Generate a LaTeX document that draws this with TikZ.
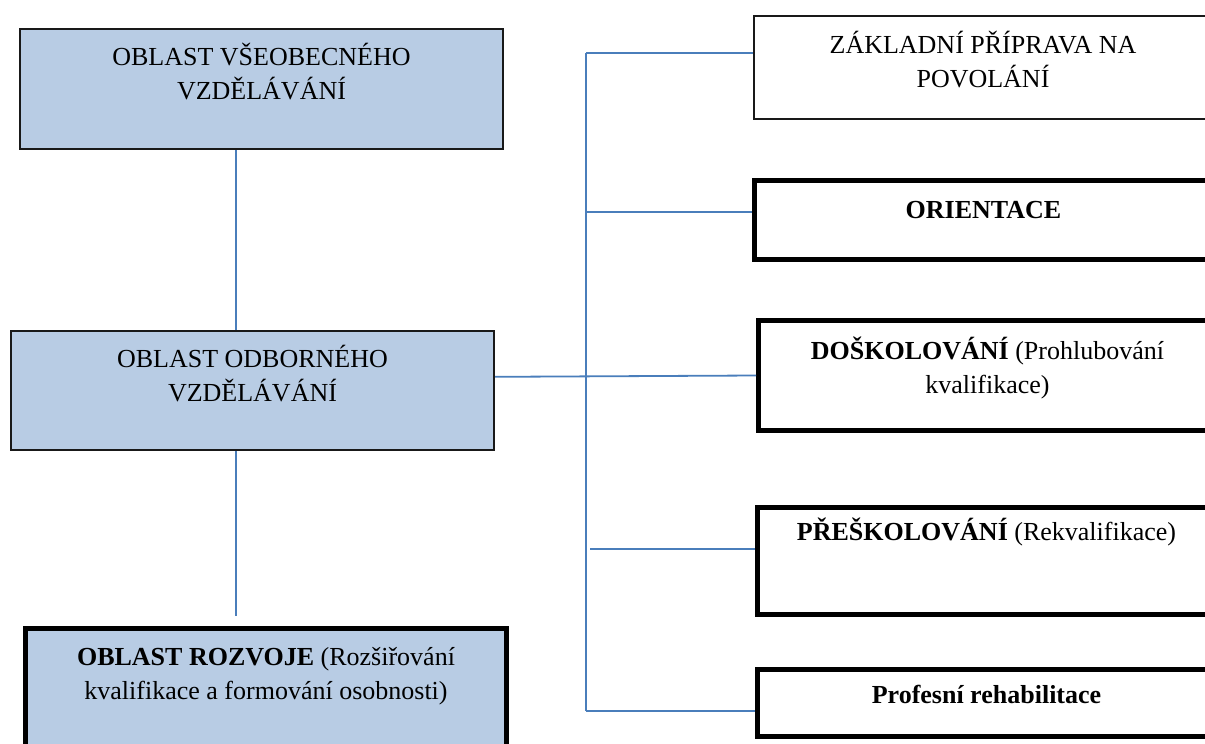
\documentclass[tikz,border=0pt]{standalone}
\usepackage{fontspec}
\setmainfont{Liberation Serif}
\usetikzlibrary{calc}

\definecolor{areafill}{HTML}{B8CCE4}
\definecolor{linkblue}{HTML}{4A7EBB}

\tikzset{
  thinbox/.style={draw=black!90, line width=2pt, inner sep=0pt, anchor=north west},
  thickbox/.style={draw=black, line width=5pt, inner sep=0pt, anchor=north west},
  shaded/.style={fill=areafill},
  caption/.style={anchor=base, inner sep=0pt, font=\fontsize{26}{34}\selectfont},
  link/.style={draw=linkblue, line width=1.8pt},
}

% two-line centred caption whose base is the first line's baseline
\newcommand\twolines[2]{\begin{tabular}[t]{@{}c@{}}#1\\#2\end{tabular}}

\begin{document}
\begin{tikzpicture}[x=1pt,y=-1pt]
  \useasboundingbox (0,0) rectangle (1205,744);
  \clip (0,0) rectangle (1205,744);

  % left column: areas of education
  \node[thinbox, shaded, minimum width=483pt, minimum height=120pt] (vseob) at (19,28) {};
  \node[thinbox, shaded, minimum width=483pt, minimum height=119pt] (odb) at (10,330) {};
  \node[thickbox, shaded, minimum width=481pt, minimum height=160pt] (rozv) at (23,626) {};

  % right column: forms of vocational education
  \node[thinbox, minimum width=458pt, minimum height=103pt] (zakl) at (753,15) {};
  \node[thickbox, minimum width=458pt, minimum height=79pt] (orient) at (752,178) {};
  \node[thickbox, minimum width=458pt, minimum height=110pt] (dosk) at (756,318) {};
  \node[thickbox, minimum width=458pt, minimum height=107pt] (presk) at (755,505) {};
  \node[thickbox, minimum width=458pt, minimum height=67pt] (prof) at (755,667) {};

  % captions
  \node[caption] (t-vseob) at ($(vseob.north)+(0,37)$) {\twolines{OBLAST VŠEOBECNÉHO}{VZDĚLÁVÁNÍ}};
  \node[caption] (t-odb) at ($(odb.north)+(0,37)$) {\twolines{OBLAST ODBORNÉHO}{VZDĚLÁVÁNÍ}};
  \node[caption] (t-rozv) at ($(rozv.north)+(0,39)$) {\twolines{\textbf{OBLAST ROZVOJE} (Rozšiřování}{kvalifikace a formování osobnosti)}};
  \node[caption] (t-zakl) at ($(zakl.north)+(0,38)$) {\twolines{ZÁKLADNÍ PŘÍPRAVA NA}{POVOLÁNÍ}};
  \node[caption] (t-orient) at ($(orient.north)+(0,40)$) {\textbf{ORIENTACE}};
  \node[caption] (t-dosk) at ($(dosk.north)+(0,41)$) {\twolines{\textbf{DOŠKOLOVÁNÍ} (Prohlubování}{kvalifikace)}};
  \node[caption] (t-presk) at ($(presk.north)+(0,35)$) {\textbf{PŘEŠKOLOVÁNÍ} (Rekvalifikace)};
  \node[caption] (t-prof) at ($(prof.north)+(0,36)$) {\textbf{Profesní rehabilitace}};

  % left column links
  \coordinate (vs-out) at ($(vseob.south west)!0.448!(vseob.south east)$);
  \coordinate (odb-out) at ($(odb.south west)!0.466!(odb.south east)$);
  \draw[link] (vs-out) -- (vs-out |- odb.north);
  \draw[link, shorten >=10pt] (odb-out) -- (odb-out |- rozv.north);

  % right column: trunk and branches
  \coordinate (trunk-top) at (586,53);
  \coordinate (trunk-bot) at (586,711);
  \coordinate (br-orient) at (586,212);
  \coordinate (br-presk) at (590,549);
  \coordinate (odb-side) at ($(odb.north east)!0.387!(odb.south east)$);
  \draw[link] (trunk-top) -- (trunk-bot);
  \draw[link] (trunk-top) -- (zakl.west |- trunk-top);
  \draw[link] (br-orient) -- (orient.west |- br-orient);
  \draw[link] (odb-side) -- (dosk.west);
  \draw[link] (br-presk) -- (presk.west |- br-presk);
  \draw[link] (trunk-bot) -- (prof.west |- trunk-bot);
\end{tikzpicture}
\end{document}
